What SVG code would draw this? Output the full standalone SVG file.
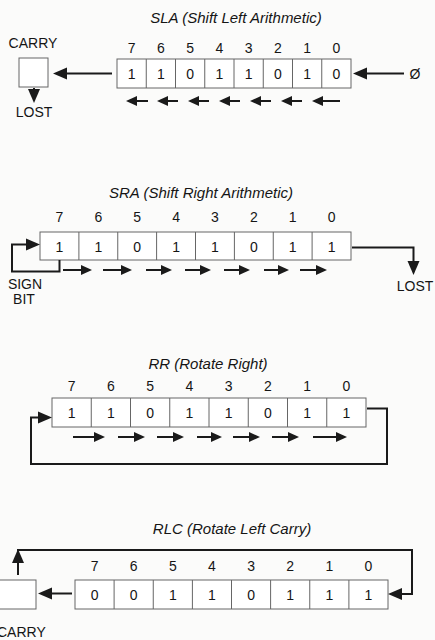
<svg xmlns="http://www.w3.org/2000/svg" width="435" height="640" viewBox="0 0 435 640">
<defs>
<style>
text{font-family:"Liberation Sans",Arial,sans-serif;fill:#151515;}
.title{font-size:15px;font-style:italic;text-anchor:middle;}
.lbl{font-size:14px;text-anchor:middle;}
.bit{font-size:14px;text-anchor:middle;}
.val{font-size:14px;text-anchor:middle;}
.reg{fill:#fff;stroke:#666;stroke-width:1;}
.div{stroke:#666;stroke-width:1;}
.big{fill:none;stroke:#1a1a1a;stroke-width:2;marker-end:url(#hb);}
.sm{fill:none;stroke:#1a1a1a;stroke-width:2;marker-end:url(#hs);}
</style>
<marker id="hb" markerUnits="userSpaceOnUse" markerWidth="15" markerHeight="13" refX="10" refY="6.5" orient="auto" viewBox="0 0 15 13"><path d="M0,0.5 L14,6.5 L0,12.5 z" fill="#1a1a1a"/></marker>
<marker id="hs" markerUnits="userSpaceOnUse" markerWidth="12" markerHeight="11" refX="8" refY="5.5" orient="auto" viewBox="0 0 12 11"><path d="M0,0.5 L11,5.5 L0,10.5 z" fill="#1a1a1a"/></marker>
</defs>
<rect width="435" height="640" fill="#fbfbfa"/>

<!-- SLA -->
<g id="sla">
<text class="title" x="236" y="23">SLA (Shift Left Arithmetic)</text>
<g id="sla-carry"><text class="lbl" x="33" y="48">CARRY</text><rect class="reg" x="19" y="58" width="29" height="29"/><text class="lbl" x="34" y="117">LOST</text></g>
<g id="sla-bits">
<text class="bit" x="131.6" y="53">7</text><text class="bit" x="160.9" y="53">6</text><text class="bit" x="190.1" y="53">5</text><text class="bit" x="219.4" y="53">4</text><text class="bit" x="248.6" y="53">3</text><text class="bit" x="277.9" y="53">2</text><text class="bit" x="307.1" y="53">1</text><text class="bit" x="336.4" y="53">0</text>
</g>
<g id="sla-reg">
<rect class="reg" x="117" y="59" width="234" height="29"/>
<path class="div" d="M146.25,59V88M175.5,59V88M204.75,59V88M234,59V88M263.25,59V88M292.5,59V88M321.75,59V88"/>
<text class="val" x="131.6" y="79">1</text><text class="val" x="160.9" y="79">1</text><text class="val" x="190.1" y="79">0</text><text class="val" x="219.4" y="79">1</text><text class="val" x="248.6" y="79">1</text><text class="val" x="277.9" y="79">0</text><text class="val" x="307.1" y="79">1</text><text class="val" x="336.4" y="79">0</text>
</g>
<text class="lbl" x="415" y="79">Ø</text>
</g>

<!-- SRA -->
<g id="sra">
<text class="title" x="201" y="198">SRA (Shift Right Arithmetic)</text>
<g id="sra-bits">
<text class="bit" x="59.4" y="222">7</text><text class="bit" x="98.3" y="222">6</text><text class="bit" x="137.2" y="222">5</text><text class="bit" x="176.1" y="222">4</text><text class="bit" x="214.9" y="222">3</text><text class="bit" x="253.8" y="222">2</text><text class="bit" x="292.7" y="222">1</text><text class="bit" x="331.6" y="222">0</text>
</g>
<g id="sra-reg">
<rect class="reg" x="40" y="232" width="311" height="28"/>
<path class="div" d="M78.9,232V260M117.75,232V260M156.6,232V260M195.5,232V260M234.4,232V260M273.25,232V260M312.1,232V260"/>
<text class="val" x="59.4" y="251.5">1</text><text class="val" x="98.3" y="251.5">1</text><text class="val" x="137.2" y="251.5">0</text><text class="val" x="176.1" y="251.5">1</text><text class="val" x="214.9" y="251.5">1</text><text class="val" x="253.8" y="251.5">0</text><text class="val" x="292.7" y="251.5">1</text><text class="val" x="331.6" y="251.5">1</text>
</g>
<g id="sra-sign"><text class="lbl" x="25" y="289">SIGN</text><text class="lbl" x="24" y="304">BIT</text></g>
<text class="lbl" x="415" y="291">LOST</text>
</g>

<!-- RR -->
<g id="rr">
<text class="title" x="208" y="369">RR (Rotate Right)</text>
<g id="rr-bits">
<text class="bit" x="71.6" y="391">7</text><text class="bit" x="110.9" y="391">6</text><text class="bit" x="150.1" y="391">5</text><text class="bit" x="189.4" y="391">4</text><text class="bit" x="228.6" y="391">3</text><text class="bit" x="267.9" y="391">2</text><text class="bit" x="307.1" y="391">1</text><text class="bit" x="346.4" y="391">0</text>
</g>
<g id="rr-reg">
<rect class="reg" x="52" y="398" width="314" height="29"/>
<path class="div" d="M91.25,398V427M130.5,398V427M169.75,398V427M209,398V427M248.25,398V427M287.5,398V427M326.75,398V427"/>
<text class="val" x="71.6" y="418">1</text><text class="val" x="110.9" y="418">1</text><text class="val" x="150.1" y="418">0</text><text class="val" x="189.4" y="418">1</text><text class="val" x="228.6" y="418">1</text><text class="val" x="267.9" y="418">0</text><text class="val" x="307.1" y="418">1</text><text class="val" x="346.4" y="418">1</text>
</g>
</g>

<!-- RLC -->
<g id="rlc">
<text class="title" x="232" y="534">RLC (Rotate Left Carry)</text>
<g id="rlc-bits">
<text class="bit" x="94.6" y="571">7</text><text class="bit" x="133.7" y="571">6</text><text class="bit" x="172.8" y="571">5</text><text class="bit" x="211.9" y="571">4</text><text class="bit" x="251.1" y="571">3</text><text class="bit" x="290.2" y="571">2</text><text class="bit" x="329.3" y="571">1</text><text class="bit" x="368.4" y="571">0</text>
</g>
<g id="rlc-reg">
<rect class="reg" x="75" y="580" width="313" height="29"/>
<path class="div" d="M114.1,580V609M153.25,580V609M192.4,580V609M231.5,580V609M270.6,580V609M309.75,580V609M348.9,580V609"/>
<text class="val" x="94.6" y="600">0</text><text class="val" x="133.7" y="600">0</text><text class="val" x="172.8" y="600">1</text><text class="val" x="211.9" y="600">1</text><text class="val" x="251.1" y="600">0</text><text class="val" x="290.2" y="600">1</text><text class="val" x="329.3" y="600">1</text><text class="val" x="368.4" y="600">1</text>
</g>
<g id="rlc-carry"><rect class="reg" x="-1" y="580" width="37" height="29"/><text class="lbl" x="-3" y="637" style="text-anchor:start">CARRY</text></g>
</g>

<g id="connectors">
<!-- SLA -->
<line class="big" x1="112" y1="73.5" x2="57" y2="73.5"/>
<line class="big" x1="404" y1="73.5" x2="357" y2="73.5"/>
<line class="big" x1="34" y1="88" x2="34" y2="99"/>
<line class="sm" x1="148" y1="101" x2="129" y2="101"/>
<line class="sm" x1="178" y1="101" x2="160" y2="101"/>
<line class="sm" x1="209" y1="101" x2="191" y2="101"/>
<line class="sm" x1="240" y1="101" x2="222" y2="101"/>
<line class="sm" x1="271" y1="101" x2="253" y2="101"/>
<line class="sm" x1="302" y1="101" x2="284" y2="101"/>
<line class="sm" x1="340" y1="101" x2="315" y2="101"/>
<!-- SRA -->
<path class="big" d="M59.5,260V271.5H12V244.5H36"/>
<path class="big" d="M352,247.5H413.5V271"/>
<line class="sm" x1="63" y1="270" x2="89" y2="270"/>
<line class="sm" x1="103" y1="270" x2="129" y2="270"/>
<line class="sm" x1="146" y1="270" x2="169" y2="270"/>
<line class="sm" x1="185" y1="270" x2="208" y2="270"/>
<line class="sm" x1="224" y1="270" x2="247" y2="270"/>
<line class="sm" x1="264" y1="270" x2="286" y2="270"/>
<line class="sm" x1="300" y1="270" x2="324" y2="270"/>
<!-- RR -->
<path class="big" d="M367,408.5H387V464H31V417.5H48"/>
<line class="sm" x1="73" y1="437" x2="102" y2="437"/>
<line class="sm" x1="118" y1="437" x2="142" y2="437"/>
<line class="sm" x1="157" y1="437" x2="181" y2="437"/>
<line class="sm" x1="197" y1="437" x2="219" y2="437"/>
<line class="sm" x1="233" y1="437" x2="257" y2="437"/>
<line class="sm" x1="272" y1="437" x2="296" y2="437"/>
<line class="sm" x1="313" y1="437" x2="344" y2="437"/>
<!-- RLC -->
<path class="big" d="M17,550H412V594H392"/>
<line class="big" x1="18" y1="575" x2="18" y2="553"/>
<line class="big" x1="72" y1="593.5" x2="42" y2="593.5"/>
</g>
</svg>
